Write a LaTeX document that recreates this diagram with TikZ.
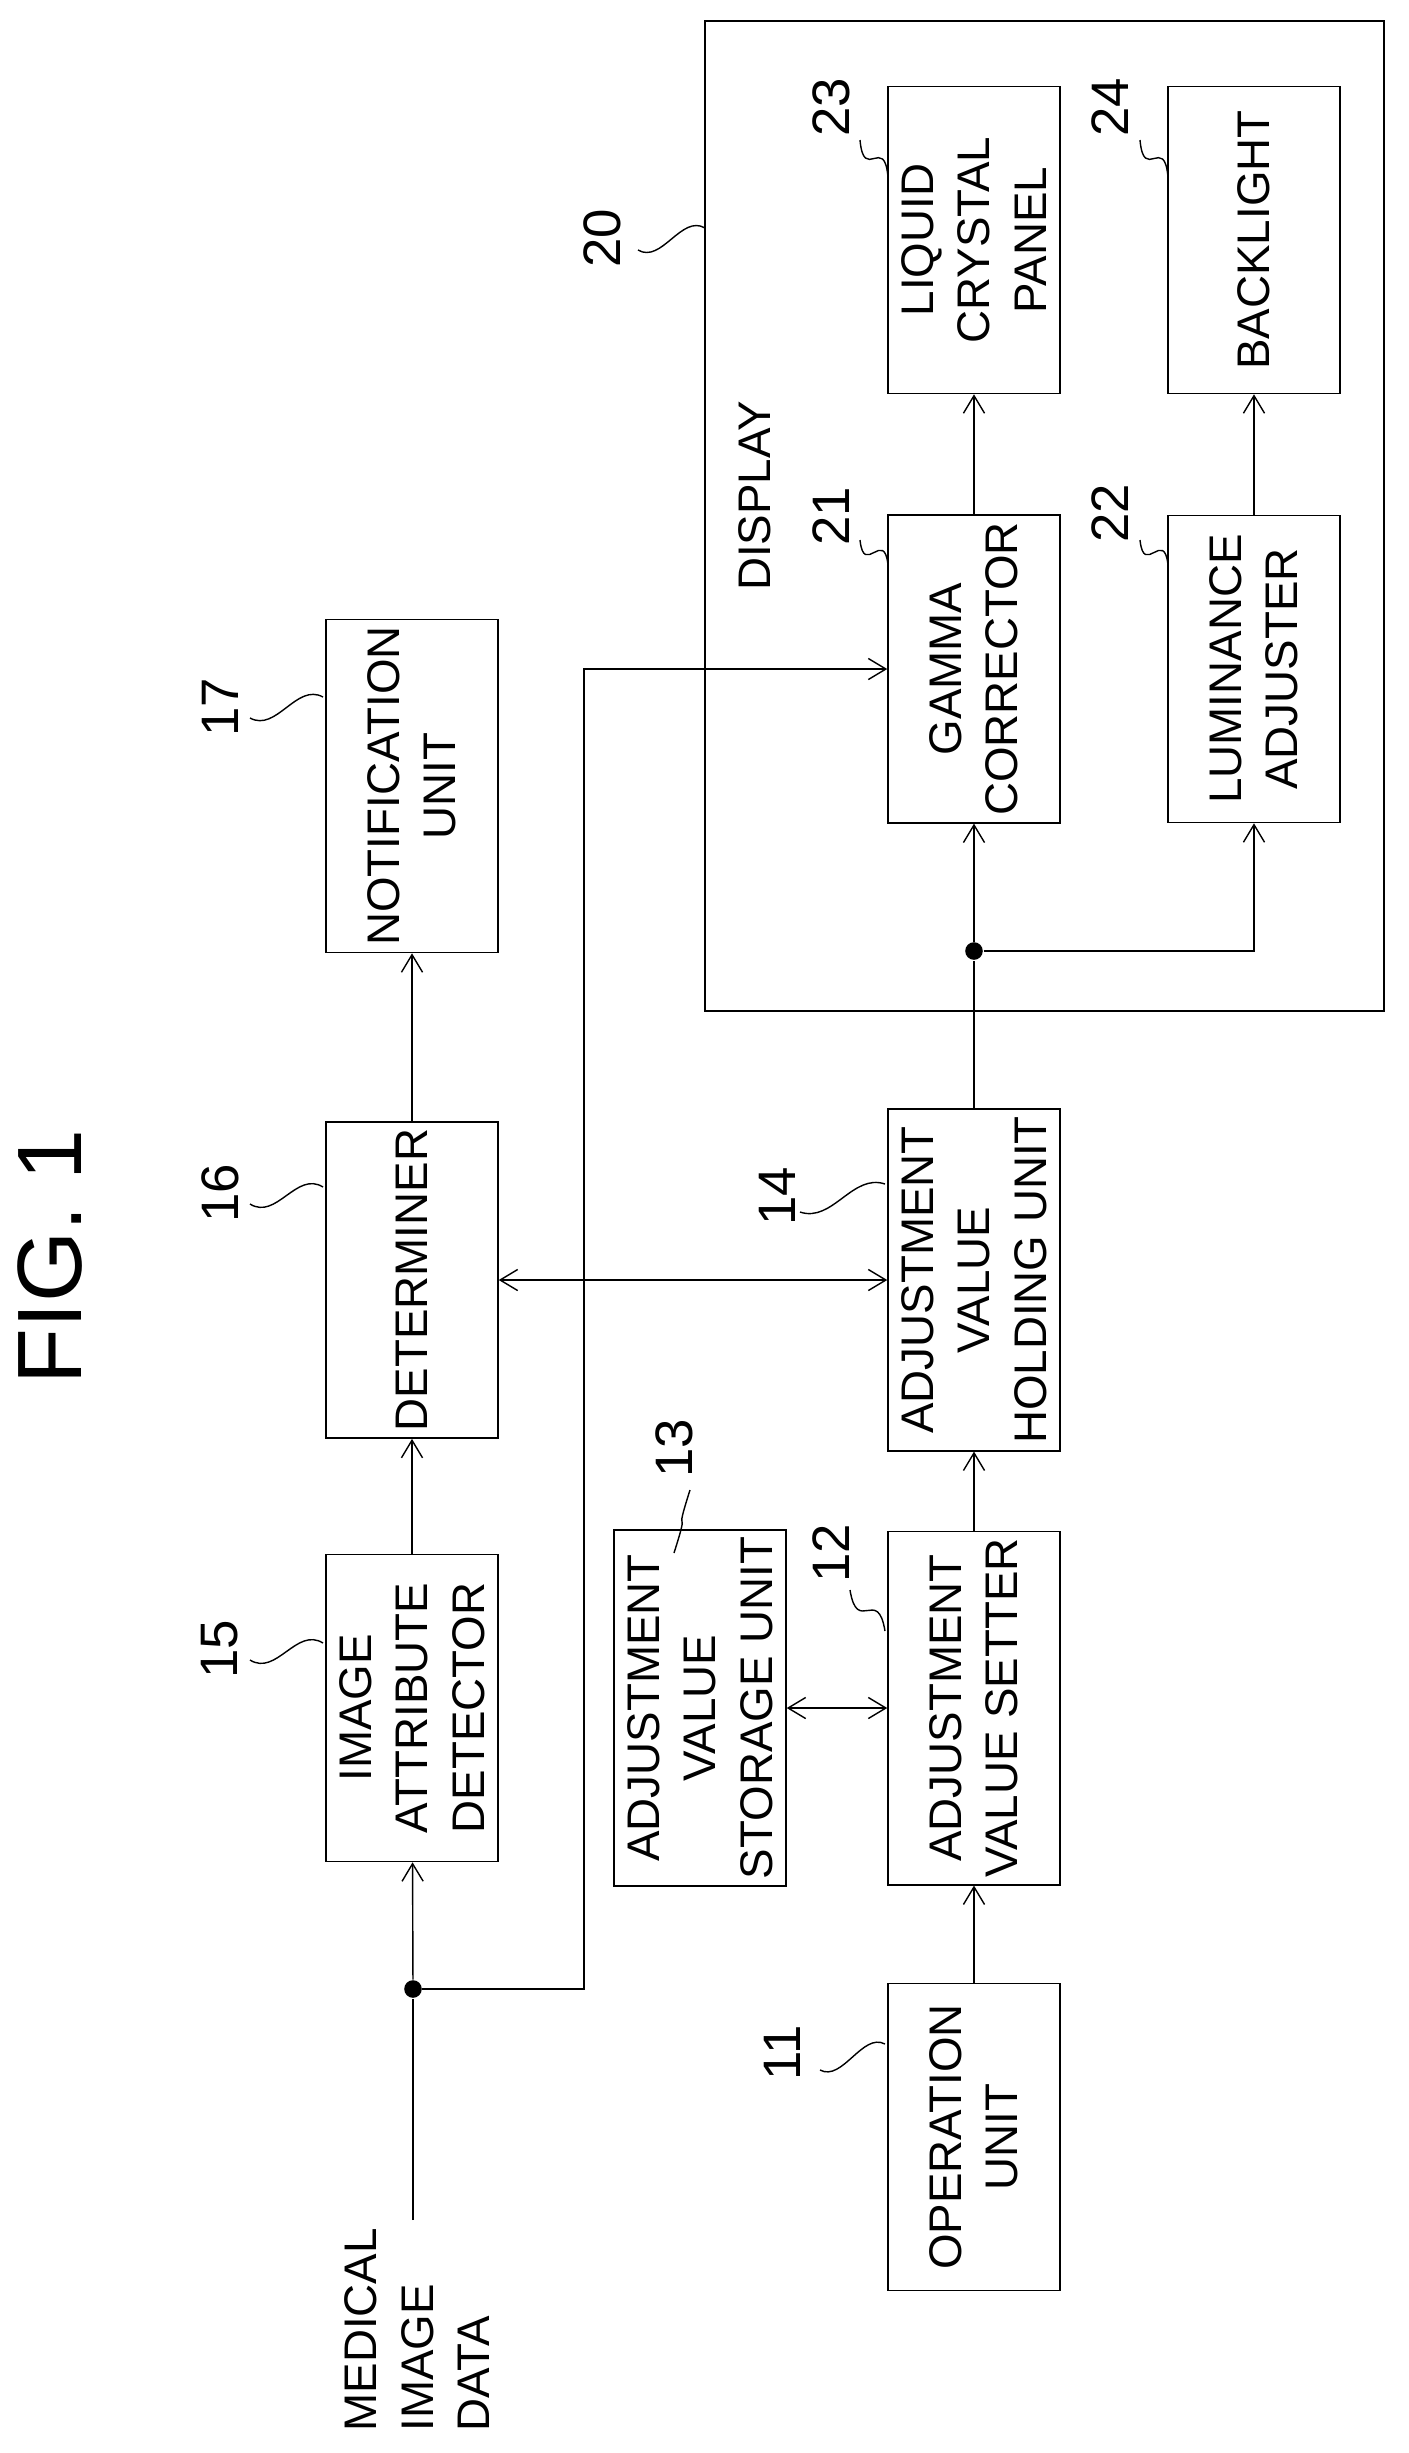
\documentclass[tikz,border=0pt]{standalone}
\usepackage{fontspec}
\setmainfont{Liberation Sans}
\usetikzlibrary{arrows.meta,calc}
\begin{document}
\begin{tikzpicture}
		[x=0.01cm, y=-0.01cm,
		 box/.style={draw=black, rotate=90, align=center, inner sep=2pt,
		   minimum width=3.07cm, minimum height=1.72cm, font=\fontsize{13}{16}\selectfont},
		 ref/.style={rotate=90, font=\fontsize{15}{18}\selectfont},
		 arr/.style={-{Straight Barb[length=5pt, width=6pt]}, thin},
		 dual/.style={{Straight Barb[length=5pt, width=6pt]}-{Straight Barb[length=5pt, width=6pt]}, thin},
		 dot/.style={circle, fill=black, inner sep=0pt, minimum size=5pt}]
		\useasboundingbox (0,0) rectangle (1409,2453);
		% heading
		\node[rotate=90, font=\fontsize{26}{30}\selectfont] (fig) at (50,1257) {FIG. 1};
		% display frame
		\draw (705,21) rectangle (1384,1011);
		\node[rotate=90, font=\fontsize{13}{16}\selectfont] (disp) at (755,496) {DISPLAY};
		% blocks
		\node[box] (oper) at (974,2137) {OPERATION\\UNIT};
		\node[box] (setter) at (974,1708) {ADJUSTMENT\\VALUE SETTER};
		\node[box, minimum height=1.72cm] (store) at (700,1708) {ADJUSTMENT\\VALUE\\STORAGE UNIT};
		\node[box, minimum width=3.04cm] (hold) at (974,1280) {ADJUSTMENT\\VALUE\\HOLDING UNIT};
		\node[box] (attr) at (412,1708) {IMAGE\\ATTRIBUTE\\DETECTOR};
		\node[box, minimum width=3.04cm] (det) at (412,1280) {DETERMINER};
		\node[box] (notif) at (412,786) {NOTIFICATION\\UNIT};
		\node[box] (gamma) at (974,669) {GAMMA\\CORRECTOR};
		\node[box] (lum) at (1254,669) {LUMINANCE\\ADJUSTER};
		\node[box] (lcd) at (974,240) {LIQUID\\CRYSTAL\\PANEL};
		\node[box] (back) at (1254,240) {BACKLIGHT};
		% input
		\node[rotate=90, align=left, anchor=south west, inner sep=0pt,
		  font=\fontsize{13}{16}\selectfont] (med) at (490,2432) {MEDICAL\\IMAGE\\DATA};
		\coordinate (in) at (413,2220);
		\node[dot] (j1) at (413,1989) {};
		\coordinate (bend) at (584,1989);
		\node[dot] (j2) at (974,951) {};
		% reference numerals
		\node[ref] (n11) at (782,2053) {11};
		\node[ref] (n12) at (831,1553) {12};
		\node[ref] (n13) at (674,1448) {13};
		\node[ref] (n14) at (777,1196) {14};
		\node[ref] (n15) at (220,1649) {15};
		\node[ref] (n16) at (220,1193) {16};
		\node[ref] (n17) at (220,707) {17};
		\node[ref] (n20) at (602,238) {20};
		\node[ref] (n21) at (831,516) {21};
		\node[ref] (n22) at (1110,513) {22};
		\node[ref] (n23) at (831,107) {23};
		\node[ref] (n24) at (1110,107) {24};

		\draw (in) -- (j1);
		\draw[arr] (j1) -- (attr);
		\draw[arr] (j1) -- (bend) |- (gamma);
		\draw[arr] (attr) -- (det);
		\draw[arr] (det) -- (notif);
		\draw[dual] (det) -- (hold);
		\draw[arr] (oper) -- (setter);
		\draw[dual] (store) -- (setter);
		\draw[arr] (setter) -- (hold);
		\draw (hold) -- (j2);
		\draw[arr] (j2) -- (gamma);
		\draw[arr] (j2) -| (lum);
		\draw[arr] (gamma) -- (lcd);
		\draw[arr] (lum) -- (back);

		% leader squiggles
		\foreach \a/\b in {{820,2070}/{885,2044}, {850,1590}/{885,1631}, {690,1490}/{674,1553},
		    {800,1212}/{885,1184}, {250,1660}/{323,1643}, {250,1204}/{323,1187},
		    {250,718}/{323,697}, {638,250}/{705,228}, {860,540}/{888,565},
		    {1140,540}/{1168,565}, {860,140}/{888,177}, {1140,140}/{1168,177}}
		  \draw[thin] (\a) .. controls ($(\a)!0.5!(\b)+(-10,25)$) and ($(\a)!0.5!(\b)+(10,-25)$) .. (\b);
	\end{tikzpicture}
\end{document}
